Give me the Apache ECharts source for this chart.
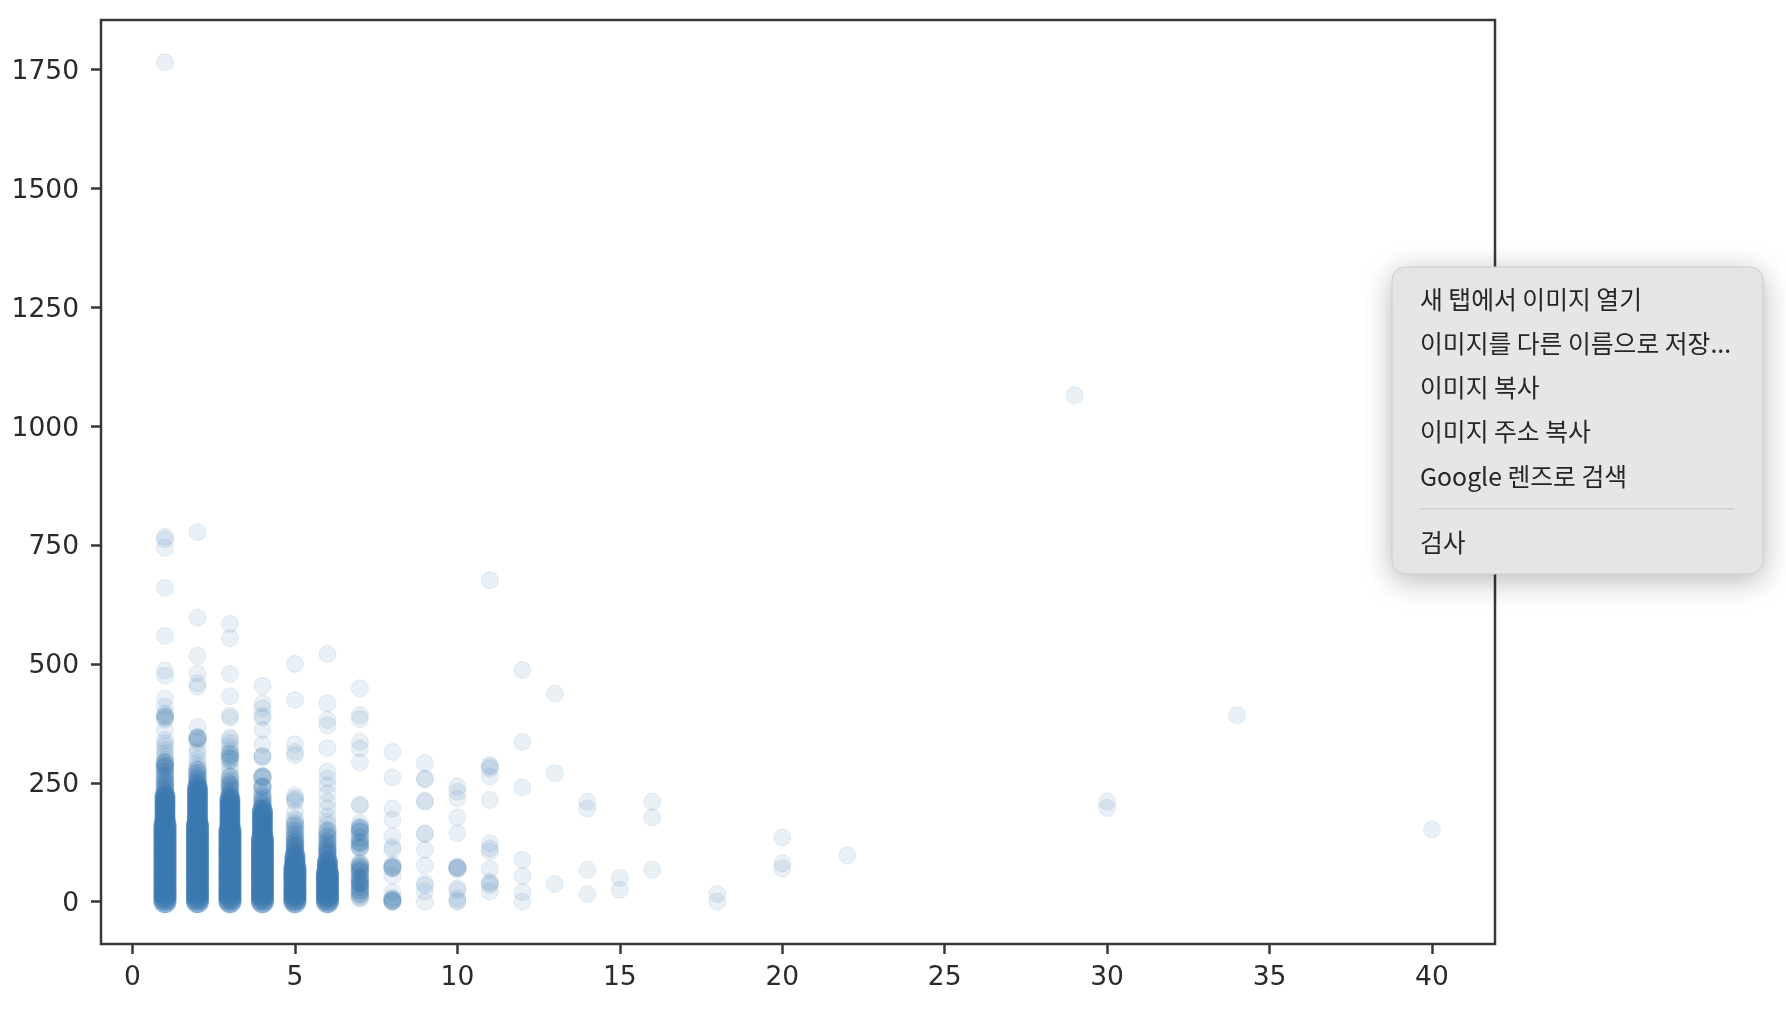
<!DOCTYPE html>
<html><head><meta charset="utf-8">
<style>html,body{margin:0;padding:0;background:#fff}#c{width:1786px;height:1022px}</style>
<script src="https://cdn.jsdelivr.net/npm/echarts@6/dist/echarts.min.js"></script>
</head><body><div id="c"></div>
<script>
const xTicks = [0,5,10,15,20,25,30,35,40];
const yTicks = [0,250,500,750,1000,1250,1500,1750];
const menuItems = ['새 탭에서 이미지 열기','이미지를 다른 이름으로 저장...','이미지 복사','이미지 주소 복사','Google 렌즈로 검색','검사'];

// Individually visible (faint) points, by x value
const faint1 = [1765,767,762,744,660,559,486,475,427,410,396,392,389,389,386,382,361,340,333,326,319,312,305,298,294,291,288,284,284,280,275,270,265,260,256,252,248,244,240,236,232,228,224];
const faint2 = [777,597,517,480,459,452,368,345,343,341,336,320,312,300,291,284,277,270,263,258,252,250,248];
const faint3 = [584,554,479,432,391,387,345,341,333,325,318,312,306,301,295,284,275,263,250,246,243,238,232,228,225,222];
const faint4 = [454,417,406,391,387,361,331,307,305,303,265,263,261,244,242,240,228,220,214,208,204,200];
const faint5 = [500,424,331,315,308,224,218,214,210,189,165,158,150,144,137,130,128,125,122,120,118,116,114,112,110,108,106];
const faint6 = [521,417,382,371,323,273,259,245,228,210,196,179,168,161,151,146,140,135,130,126,122,118,115,112,108,106,104,102,100,98];
const faint7 = [449,392,384,336,322,293,204,202,165,158,154,150,148,127,124,120,116,112,80,76,74,70,68,64,62,50,48,44,42,40,38,36,30,24,20,15,10];
const faint8 = [315,261,196,172,137,115,110,78,74,72,70,55,20,8,6,4,2,0,0];
const faint9 = [291,259,257,212,210,144,142,109,76,39,34,21,0];
const faint10 = [242,231,217,177,144,74,72,70,28,24,7,2,0];
const faint11 = [676,287,284,280,263,214,123,112,105,68,42,38,35,21];
const faint12 = [487,336,240,88,54,20,0];
const faint13 = [437,270,37];
const faint14 = [210,196,67,16];
const faint15 = [50,25];
const faint16 = [210,177,67];
const faint18 = [16,0];
const faint20 = [135,81,70];
const faint22 = [97];
const faint29 = [1065];
const faint30 = [210,197];
const faint34 = [392];
const faint40 = [152];

// Clusters of several overlapping points, where the colour builds up part way
const mid1 = [228,236,244,252,262,272,284,292];
const mid2 = [246,252,258,264,270,278,345];
const mid3 = [222,230,238,246,254,262,300,310];
const mid4 = [198,206,214,222,240,262];
const mid5 = [100,108,116,124,132,140,150,160,172];
const mid6 = [90,98,106,114,124,136,148];
const mid7 = [8,16,24,32,40,48,56,64,72,80,115,125,135,145,155];
const mid8 = [2,72];
const mid10 = [70];

// Saturated lower parts of the busy columns (wider stroke of overlapping points)
const coreLow1 = [0,6,12,18,24,30,36,42,48,54,60,66,72,78,84,90,96,102,108,114,120,126,132,138,144,150,156,162];
const coreLow2 = [0,6,12,18,24,30,36,42,48,54,60,66,72,78,84,90,96,102,108,114,120,126,132,138,144,150,156,162];
const coreLow3 = [0,6,12,18,24,30,36,42,48,54,60,66,72,78,84,90,96,102,108,114,120,126,132,138,144,150];
const coreLow4 = [0,6,12,18,24,30,36,42,48,54,60,66,72,78,84,90,96,102,108,114,120,126,132];
const coreLow5 = [0,6,12,18,24,30,36,42,48,54,60,66,72];
const coreLow6 = [0,6,12,18,24,30,36,42,48,54,60];
const coreHigh1 = [168,174,180,186,192,198,204,210,216,222];
const coreHigh2 = [168,174,180,186,192,198,204,210,216,222,228,234,240];
const coreHigh3 = [156,162,168,174,180,186,192,198,204,210,216];
const coreHigh4 = [138,144,150,156,162,168,174,180,186,192];
const coreHigh5 = [78,84,90,96];
const coreHigh6 = [66,72,78,84];

const faintSets = [[1,faint1],[2,faint2],[3,faint3],[4,faint4],[5,faint5],[6,faint6],[7,faint7],[8,faint8],[9,faint9],[10,faint10],[11,faint11],[12,faint12],[13,faint13],[14,faint14],[15,faint15],[16,faint16],[18,faint18],[20,faint20],[22,faint22],[29,faint29],[30,faint30],[34,faint34],[40,faint40]];
const midSets = [[1,mid1],[2,mid2],[3,mid3],[4,mid4],[5,mid5],[6,mid6],[7,mid7],[8,mid8],[10,mid10]];
const lowSets = [[1,coreLow1],[2,coreLow2],[3,coreLow3],[4,coreLow4],[5,coreLow5],[6,coreLow6]];
const highSets = [[1,coreHigh1],[2,coreHigh2],[3,coreHigh3],[4,coreHigh4],[5,coreHigh5],[6,coreHigh6]];
const pairs = sets => sets.flatMap(([x,vs]) => vs.map(v => [x,v]));

const BLUE = '#3a78af';
const FONT = '"DejaVu Sans", Verdana, sans-serif';
const axisCommon = {
  type:'value', splitLine:{show:false},
  axisLine:{show:false,onZero:false},
  axisTick:{show:true,length:10,lineStyle:{color:'#383838',width:2.5}}
};
const labelBase = {color:'#2a2a2a',fontFamily:FONT,fontSize:26.5,formatter:v=>String(v)};
const menuTextTops = [300,344,388,432,477,543];
const graphic = [
  {type:'rect',z:100,shape:{x:1392,y:267,width:371,height:307,r:13},
   style:{fill:'#e7e6e5',stroke:'#cfcecd',lineWidth:1,shadowBlur:30,shadowColor:'rgba(0,0,0,0.28)',shadowOffsetY:6}},
  {type:'rect',z:101,shape:{x:1420,y:508,width:314,height:1.5},style:{fill:'#d0cfce'}}
].concat(menuItems.map((t,i)=>({
  type:'text',z:102,x:1420,y:menuTextTops[i],
  style:{text:t,fill:'#262626',font:'24.8px "Noto Sans CJK KR"',textVerticalAlign:'middle',textAlign:'left'}
})));

const chart = echarts.init(document.getElementById('c'),null,{renderer:'canvas'});
chart.setOption({
  animation:false, backgroundColor:'#fff',
  textStyle:{fontFamily:FONT},
  grid:{show:true,left:101,top:20,width:1394,height:924,borderColor:'#383838',borderWidth:2.5,backgroundColor:'transparent'},
  xAxis:Object.assign({},axisCommon,{min:-0.97,max:41.94,
    axisLabel:Object.assign({},labelBase,{customValues:xTicks,margin:21}),
    axisTick:Object.assign({},axisCommon.axisTick,{customValues:xTicks})}),
  yAxis:Object.assign({},axisCommon,{min:-89,max:1854,
    axisLabel:Object.assign({},labelBase,{customValues:yTicks,margin:22,verticalAlign:'top',lineHeight:5}),
    axisTick:Object.assign({},axisCommon.axisTick,{customValues:yTicks})}),
  series:[
    {type:'scatter',name:'faint',data:pairs(faintSets),symbolSize:17,silent:true,clip:false,
     itemStyle:{color:BLUE,opacity:0.115,borderColor:BLUE,borderWidth:1}},
    {type:'scatter',name:'mid',data:pairs(midSets),symbolSize:19,silent:true,clip:false,
     itemStyle:{color:BLUE,opacity:0.22}},
    {type:'scatter',name:'coreHigh',data:pairs(highSets),symbolSize:21,silent:true,clip:false,
     itemStyle:{color:BLUE,opacity:0.6}},
    {type:'scatter',name:'coreLow',data:pairs(lowSets),symbolSize:23,silent:true,clip:false,
     itemStyle:{color:BLUE,opacity:0.6}}
  ],
  graphic:graphic
});
</script></body></html>
